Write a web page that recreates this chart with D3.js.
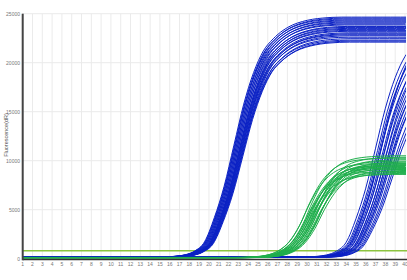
<!DOCTYPE html>
<html><head><meta charset="utf-8">
<script src="https://cdn.jsdelivr.net/npm/d3@7"></script>
<style>body{margin:0;background:#fff}svg{display:block}</style></head>
<body>
<svg id="c" width="407" height="280"></svg>
<script>
// ---- data ----
const cycles = d3.range(1, 41);
const yTicks = [0, 5000, 10000, 15000, 20000, 25000];
const yTitle = "Fluorescence(dR)";
const threshold = 800;

// normalized curve shape (fraction of plateau) per cycle 1..40
const shapeBlue = [0.008,0.008,0.008,0.008,0.008,0.008,0.008,0.008,0.008,0.008,
                   0.008,0.008,0.008,0.008,0.008,0.008,0.010,0.016,0.032,0.07,
                   0.17,0.30,0.47,0.64,0.77,0.86,0.91,0.945,0.968,0.982,
                   0.991,0.996,0.999,1,1,1,1,1,1,1];
const shapeGreen = [0.012,0.012,0.012,0.012,0.012,0.012,0.012,0.012,0.012,0.012,
                    0.012,0.012,0.012,0.012,0.012,0.012,0.012,0.012,0.012,0.012,
                    0.012,0.012,0.012,0.013,0.016,0.025,0.045,0.09,0.18,0.34,
                    0.56,0.74,0.86,0.93,0.965,0.983,0.992,0.997,1,1];

// early blue wells: plateau and cycle offset
const earlyPlateau = [24650,24550,24450,24350,24250,24150,24050,23950,23850,23700,23600,23500,
                      23400,23300,23200,23050,22950,22850,22750,22600,22450,22300,22200,22100];
const earlyShift = [-0.45,-0.3,-0.4,-0.2,-0.35,-0.1,-0.25,0.0,-0.15,0.1,-0.05,0.15,
                    0.05,0.2,0.1,0.25,0.3,0.15,0.35,0.2,0.4,0.3,0.45,0.35];

// green wells
const greenPlateau = [10500,10350,10250,10100,9950,9850,9750,9700,9600,9550,9500,
                      9450,9400,9300,9250,9200,9100,9000,8900,8800,8700,8600];
const greenShift = [-0.4,0.3,-0.7,0.5,-0.1,0.8,-0.8,0.1,0.4,-0.3,0.7,
                    -0.5,0.0,0.2,-0.4,0.6,-0.2,0.8,-0.6,0.1,0.4,-0.3];

// late blue wells
const latePlateau = [24000,23500,23000,22500,23500,22000,21500,22500,21000,22000,
                     20000,21000,20500,19000,20000,19500,18500,18000,17500,24000];
const lateShift = [14.0,14.2,14.3,14.4,14.5,14.6,14.7,14.8,14.9,15.0,
                   15.0,15.1,15.2,15.2,15.3,15.4,15.5,15.6,15.7,14.6];

// ---- drawing ----
const svg = d3.select("#c");
const x = d3.scaleLinear().domain([1, 40]).range([22.7, 405]);
const y = d3.scaleLinear().domain([0, 25000]).range([258.7, 13.7]);
const font = "'Liberation Sans', Arial, sans-serif";

// grid
svg.append("g").selectAll("line").data(cycles).join("line")
  .attr("x1", d => x(d)).attr("x2", d => x(d))
  .attr("y1", y(25000)).attr("y2", y(0))
  .attr("stroke", "#ebebeb").attr("stroke-width", 1);
svg.append("g").selectAll("line").data(yTicks.slice(1)).join("line")
  .attr("x1", x(1)).attr("x2", 407)
  .attr("y1", d => y(d)).attr("y2", d => y(d))
  .attr("stroke", "#ebebeb").attr("stroke-width", 1);

// threshold
svg.append("line").attr("x1", x(1)).attr("x2", 407)
  .attr("y1", y(threshold)).attr("y2", y(threshold))
  .attr("stroke", "#8cc43f").attr("stroke-width", 1.5);

svg.append("defs").append("clipPath").attr("id", "clip")
  .append("rect").attr("x", x(1)).attr("y", 0).attr("width", x(40) - x(1) + 1).attr("height", 280);

const line = d3.line().x(d => x(d[0])).y(d => y(d[1])).curve(d3.curveMonotoneX);
function pts(shape, P, s) {
  const p = cycles.map((c, i) => [c + s, shape[i] * P]);
  if (s > 0) p.unshift([1, shape[0] * P]);
  if (s < 0) p.push([40.5, shape[shape.length - 1] * P]);
  return p;
}
const gCurves = svg.append("g").attr("clip-path", "url(#clip)");
function drawGroup(shape, plateaus, shifts, color) {
  gCurves.append("g").selectAll("path").data(plateaus.map((P, i) => pts(shape, P, shifts[i])))
    .join("path").attr("d", line).attr("fill", "none")
    .attr("stroke", color).attr("stroke-width", 1);
}
drawGroup(shapeBlue, earlyPlateau, earlyShift, "#0c22c4");
drawGroup(shapeBlue, latePlateau, lateShift, "#0c22c4");
drawGroup(shapeGreen, greenPlateau, greenShift, "#1fae4c");

// axes lines
svg.append("line").attr("x1", x(1)).attr("x2", 407).attr("y1", 259.6).attr("y2", 259.6)
  .attr("stroke", "#333").attr("stroke-width", 1.5);
svg.append("line").attr("x1", x(1)).attr("x2", x(1)).attr("y1", y(25000)).attr("y2", 260.3)
  .attr("stroke", "#444").attr("stroke-width", 2);

// tick labels
svg.append("g").selectAll("text").data(yTicks).join("text")
  .attr("x", 20).attr("y", d => y(d) + 1.8).attr("text-anchor", "end")
  .attr("font-family", font).attr("font-size", 5).attr("fill", "#777")
  .text(d => d);
svg.append("g").selectAll("text").data(cycles).join("text")
  .attr("x", d => x(d)).attr("y", 266).attr("text-anchor", "middle")
  .attr("font-family", font).attr("font-size", 5).attr("fill", "#777")
  .text(d => d);
svg.append("text").attr("transform", "translate(8,135) rotate(-90)")
  .attr("text-anchor", "middle").attr("font-family", font).attr("font-size", 5.5)
  .attr("fill", "#555").text(yTitle);
</script>
</body></html>
